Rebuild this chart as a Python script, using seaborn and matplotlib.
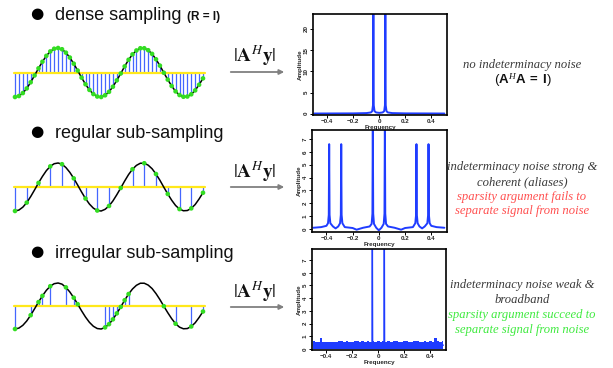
import matplotlib
matplotlib.use("Agg")
import matplotlib.pyplot as plt
import seaborn as sns

# ---------------- data ----------------
sample_index = list(range(49))
signal = [-1.00, -0.96, -0.84, -0.65, -0.40, -0.12, 0.17, 0.44, 0.68, 0.86,
          0.97, 1.00, 0.95, 0.81, 0.61, 0.36, 0.08, -0.21, -0.48, -0.71,
          -0.88, -0.98, -1.00, -0.93, -0.79, -0.58, -0.32, -0.04, 0.25, 0.52,
          0.74, 0.90, 0.99, 0.99, 0.91, 0.76, 0.54, 0.28, -0.01, -0.29,
          -0.55, -0.77, -0.92, -0.99, -0.98, -0.89, -0.73, -0.50, -0.24]
dense_idx = sample_index
regular_idx = [0, 3, 6, 9, 12, 15, 18, 21, 24, 27, 30, 33, 36, 39, 42, 45, 48]
irregular_idx = [0, 4, 6, 7, 9, 13, 15, 16, 23, 24, 25, 26, 27, 28, 29, 38, 41, 45, 48]

freq1 = [-0.50, -0.20, -0.10, -0.065, -0.055, -0.049, -0.046, -0.043, -0.037, -0.025, 0.00,
         0.025, 0.037, 0.043, 0.046, 0.049, 0.055, 0.065, 0.10, 0.20, 0.50]
amp1 = [0.05, 0.08, 0.15, 0.3, 0.6, 2.0, 24.5, 2.0, 0.6, 0.3, 0.2,
        0.3, 0.6, 2.0, 24.5, 2.0, 0.6, 0.3, 0.15, 0.08, 0.05]

freq2 = [-0.50, -0.44, -0.40, -0.388, -0.382, -0.379, -0.376, -0.370, -0.35, -0.33, -0.31,
         -0.296, -0.290, -0.287, -0.284, -0.278, -0.26, -0.20, -0.17, -0.12, -0.07, -0.055,
         -0.049, -0.046, -0.043, -0.037, -0.02, 0.00, 0.02, 0.037, 0.043, 0.046, 0.049,
         0.055, 0.07, 0.12, 0.17, 0.20, 0.26, 0.278, 0.284, 0.287, 0.290, 0.296, 0.31,
         0.33, 0.35, 0.370, 0.376, 0.379, 0.382, 0.388, 0.40, 0.44, 0.50]
amp2 = [0.10, 0.15, 0.25, 0.45, 1.1, 6.6, 1.1, 0.45, 0.2, 0.05, 0.2,
        0.45, 1.1, 6.6, 1.1, 0.45, 0.15, 0.08, -0.05, 0.1, 0.2, 0.4,
        1.2, 8.5, 1.2, 0.4, 0.1, -0.1, 0.1, 0.4, 1.2, 8.5, 1.2,
        0.4, 0.2, 0.1, -0.05, 0.08, 0.15, 0.45, 1.1, 6.6, 1.1, 0.45, 0.2,
        0.05, 0.2, 0.45, 1.1, 6.6, 1.1, 0.45, 0.25, 0.15, 0.10]

freq3 = [-0.50, -0.048, -0.046, -0.044, 0.044, 0.046, 0.048, 0.50]
amp3 = [0.3, 0.3, 9.0, 0.3, 0.3, 9.0, 0.3, 0.3]
noise_freq = [-0.50, -0.48, -0.46, -0.44, -0.42, -0.40, -0.38, -0.36, -0.34, -0.32, -0.30,
              -0.28, -0.26, -0.24, -0.22, -0.20, -0.18, -0.16, -0.14, -0.12, -0.10,
              -0.08, -0.06, -0.04, -0.02, 0.00, 0.02, 0.04, 0.06, 0.08, 0.10,
              0.12, 0.14, 0.16, 0.18, 0.20, 0.22, 0.24, 0.26, 0.28, 0.30,
              0.32, 0.34, 0.36, 0.38, 0.40, 0.42, 0.44, 0.46, 0.48, 0.50]
noise_top = [0.60, 0.55, 0.58, 0.85, 0.55, 0.52, 0.56, 0.54, 0.58, 0.55, 0.60,
             0.65, 0.57, 0.62, 0.55, 0.58, 0.66, 0.60, 0.56, 0.62, 0.55,
             0.60, 0.58, 0.62, 0.56, 0.60, 0.55, 0.63, 0.58, 0.62, 0.56,
             0.60, 0.64, 0.58, 0.55, 0.62, 0.66, 0.58, 0.56, 0.64, 0.60,
             0.55, 0.58, 0.62, 0.56, 0.60, 0.58, 0.85, 0.60, 0.56, 0.62]

bullet_titles = ["dense sampling", "regular sub-sampling", "irregular sub-sampling"]
xtick_vals = [-0.4, -0.2, 0, 0.2, 0.4]
xtick_labels = ["\u22120.4", "\u22120.2", "0", "0.2", "0.4"]

# ---------------- style ----------------
sns.set_style("white")
plt.rcParams['font.family'] = ['Liberation Sans', 'DejaVu Sans']
plt.rcParams['mathtext.fontset'] = 'custom'
plt.rcParams['mathtext.rm'] = 'Liberation Sans'
plt.rcParams['mathtext.bf'] = 'Liberation Sans:bold'
plt.rcParams['mathtext.it'] = 'Liberation Serif:italic'

W, H = 613, 368
fig = plt.figure(figsize=(W / 100, H / 100), dpi=100)
fig.patch.set_facecolor('white')


def rect(x0, y0, x1, y1):
    return [x0 / W, 1 - y1 / H, (x1 - x0) / W, (y1 - y0) / H]


def fx(x):
    return x / W


def fy(y):
    return 1 - y / H


blue = '#1f3cff'
stem_c = '#4466ff'
green = '#33dd22'
yellow = '#ffe81a'
gray_txt = '#3a3a3a'

# ---------------- left: sampled sines ----------------
sine_rows = [(48, 97), (163, 211), (283, 329)]
for (top, bot), idx in zip(sine_rows, [dense_idx, regular_idx, irregular_idx]):
    ax = fig.add_axes(rect(15, top, 203, bot))
    ax.set_xlim(0, 48)
    ax.set_ylim(-1, 1)
    ax.axis('off')
    vals = [signal[i] for i in idx]
    ax.vlines(idx, 0, vals, color=stem_c, lw=0.9, zorder=1, clip_on=False)
    ax.plot([-0.3, 48.6], [0, 0], color=yellow, lw=1.6, zorder=2, clip_on=False)
    sns.lineplot(x=sample_index, y=signal, ax=ax, color='black', linewidth=1.1,
                 estimator=None, sort=False, zorder=3)
    sns.scatterplot(x=idx, y=vals, ax=ax, color=green, s=11, edgecolor='none', zorder=4)
    for l in ax.lines:
        l.set_clip_on(False)
    for c in ax.collections:
        c.set_clip_on(False)

# bullets + titles
title_base = [20, 138, 258]
for t, yb in zip(bullet_titles, title_base):
    fig.text(fx(37), fy(yb - 6), "\u25cf", fontsize=11, ha='center', va='center', color='black',
             family=['DejaVu Sans'])
    fig.text(fx(55), fy(yb), t, fontsize=13, ha='left', va='baseline', color='#111111')
fig.text(fx(187), fy(20), "(R = I)", fontsize=8.5, fontweight='bold', ha='left', va='baseline',
         color='#111111')

# arrows and operator
arrow_y = [72, 187, 307]
op_y = [56, 172, 292]
for ay, oy in zip(arrow_y, op_y):
    fig.text(fx(255), fy(oy), r'$|\mathbf{A}^{H}\mathbf{y}|$', fontsize=14, ha='center',
             va='center', math_fontfamily='stix', color='#111111')
    fig.add_artist(matplotlib.patches.FancyArrowPatch(
        (fx(228), fy(ay)), (fx(287), fy(ay)), transform=fig.transFigure,
        arrowstyle='-|>', mutation_scale=7, color='#808080', lw=1.3))

# ---------------- spectra ----------------
spec_rects = [(313, 14, 447, 115), (312, 130, 447, 232), (312, 249, 446, 350)]
ylims = [(-0.3, 23.5), (-0.23, 7.7), (-0.08, 7.87)]
yticks = [[0, 5, 10, 15, 20], list(range(8)), list(range(8))]
spectra = [(freq1, amp1), (freq2, amp2), (freq3, amp3)]
lws = [1.4, 1.4, 1.0]
for k in range(3):
    ax = fig.add_axes(rect(*spec_rects[k]))
    fr, am = spectra[k]
    if k == 2:
        ax.fill_between(noise_freq, 0, noise_top, step='mid', color=blue, lw=0)
    sns.lineplot(x=fr, y=am, ax=ax, color=blue, linewidth=lws[k], estimator=None, sort=False)
    ax.set_xlim(-0.51, 0.52)
    ax.set_ylim(*ylims[k])
    ax.set_xticks(xtick_vals)
    ax.set_xticklabels(xtick_labels)
    ax.set_yticks(yticks[k])
    ax.set_yticklabels([str(v) for v in yticks[k]])
    ax.tick_params(axis='both', which='both', direction='out', length=2, width=0.7, pad=1,
                   labelsize=4.5, bottom=True, left=True, color='black')
    for lab in ax.get_xticklabels() + ax.get_yticklabels():
        lab.set_fontweight('bold')
    for lab in ax.get_yticklabels():
        lab.set_rotation(90)
        lab.set_va('center')
    ax.set_xlabel("Frequency", fontsize=4.5, fontweight='bold', labelpad=0.5)
    ax.set_ylabel("Amplitude", fontsize=4.5, fontweight='bold', labelpad=0.5)
    for s in ax.spines.values():
        s.set_linewidth(1.2)
        s.set_color('black')
    ax.set_facecolor('white')

# ---------------- right texts ----------------
cx = 522
serif_it = dict(family=['Liberation Serif'], style='italic', fontsize=9.1, ha='center', va='center')
fig.text(fx(cx), fy(65), "no indeterminacy noise", color=gray_txt, **serif_it)
fig.text(fx(cx + 1), fy(80), r'$\mathit{(}\mathbf{A}^{\mathit{H}}\mathbf{A}\ \mathbf{=}\ \mathbf{I}\mathit{)}$',
         fontsize=9.5, ha='center', va='center', math_fontfamily='custom', color='#111111')

fig.text(fx(cx), fy(167), "indeterminacy noise strong &", color=gray_txt, **serif_it)
fig.text(fx(cx), fy(182), "coherent (aliases)", color=gray_txt, **serif_it)
fig.text(fx(cx), fy(197), "sparsity argument fails to", color='#ff5050', **serif_it)
fig.text(fx(cx), fy(211), "separate signal from noise", color='#ff5050', **serif_it)

fig.text(fx(cx), fy(285), "indeterminacy noise weak &", color=gray_txt, **serif_it)
fig.text(fx(cx), fy(300), "broadband", color=gray_txt, **serif_it)
fig.text(fx(cx), fy(315), "sparsity argument succeed to", color='#3fea3f', **serif_it)
fig.text(fx(cx), fy(330), "separate signal from noise", color='#3fea3f', **serif_it)

fig.savefig("out.png", dpi=100, facecolor='white')
